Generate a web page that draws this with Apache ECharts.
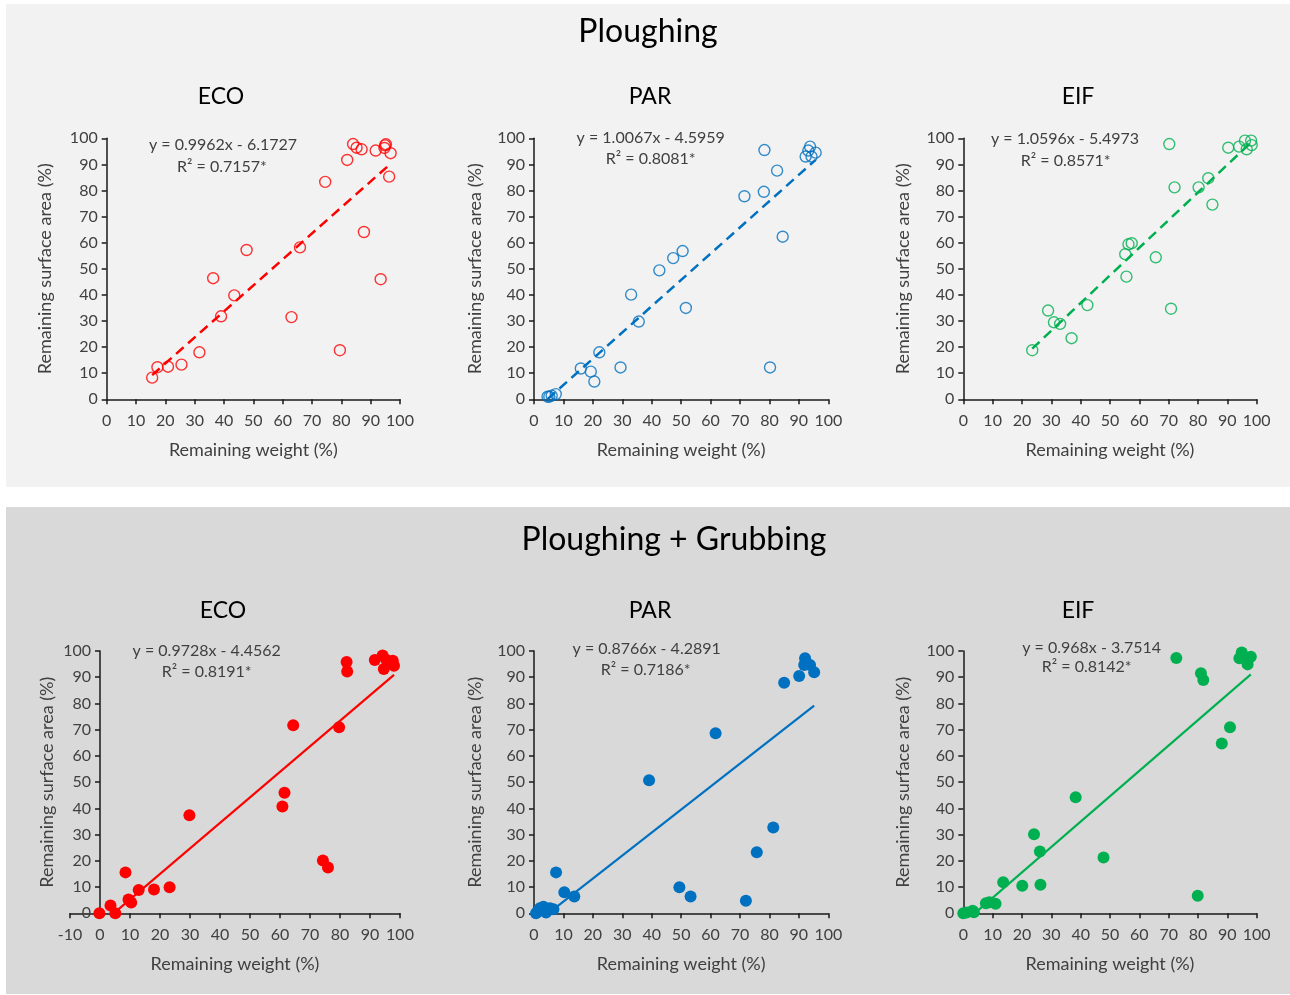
<!DOCTYPE html>
<html><head><meta charset="utf-8">
<script src="https://cdn.jsdelivr.net/npm/echarts@6/dist/echarts.min.js"></script>
<style>html,body{margin:0;padding:0;background:#fff}#c{width:1290px;height:995px}</style>
</head><body><div id="c"></div>
<script>
const panelTitles = ['Ploughing', 'Ploughing + Grubbing'];
const groups = ['ECO', 'PAR', 'EIF'];
const colors = ['#ff0000', '#0070c0', '#00b050'];

// Ploughing
const ecoPlX = [15.5,17.3,20.9,25.5,31.6,36.3,39.0,43.5,47.7,63.0,65.9,74.5,79.5,82.0,84.0,85.2,86.9,87.7,91.7,93.4,94.9,95.2,94.7,96.3,96.8];
const ecoPlY = [8.3,12.3,12.5,13.3,18.0,46.4,31.8,39.8,57.2,31.5,58.2,83.3,18.8,91.7,97.8,96.4,95.8,64.1,95.3,46.0,97.3,97.7,96.3,85.3,94.3];
const parPlX = [4.6,5.2,6.0,7.4,15.9,19.3,20.5,22.2,29.4,33.0,35.6,42.6,47.3,50.5,51.6,71.5,78.1,78.3,80.2,82.6,84.5,92.3,93.2,93.8,94.3,95.7];
const parPlY = [1.0,1.0,1.4,2.0,11.8,10.6,6.8,18.0,12.2,40.1,29.8,49.4,54.1,56.8,35.0,77.8,79.5,95.5,12.2,87.6,62.3,93.0,95.3,96.8,93.0,94.5];
const eifPlX = [23.5,28.9,30.9,33.0,36.9,42.3,55.2,55.6,56.3,57.4,65.6,70.2,70.8,72.0,80.2,83.5,84.9,90.3,94.0,96.0,96.6,98.1,98.3];
const eifPlY = [18.8,34.0,29.5,28.9,23.4,36.1,55.6,47.0,59.4,59.8,54.4,97.8,34.7,81.2,81.2,84.7,74.6,96.4,96.8,99.1,95.8,99.1,97.4];

// Ploughing + Grubbing
const ecoPgX = [-0.2,3.5,5.1,8.5,9.5,10.4,12.9,18.0,23.2,29.8,60.8,61.5,64.4,74.3,76.0,79.7,82.2,82.4,91.6,94.2,94.6,95.5,97.6,98.0];
const ecoPgY = [0,3.0,0,15.6,5.3,4.1,8.9,9.1,9.9,37.4,40.7,46.0,71.7,20.1,17.5,70.9,95.8,92.2,96.6,98.3,93.1,96.6,96.3,94.4];
const parPgX = [0.7,1.2,2.0,3.2,4.1,4.5,5.4,6.6,7.5,10.3,13.7,39.1,49.4,53.2,61.7,72.0,75.7,81.3,85.0,90.1,92.1,91.8,93.8,95.2,92.6];
const parPgY = [0,0.6,1.9,2.5,0.3,1.5,1.9,1.5,15.6,8.0,6.4,50.7,9.9,6.4,68.6,4.8,23.3,32.7,87.9,90.5,97.2,94.7,94.7,91.9,95.3];
const eifPgX = [0,1.1,3.2,3.6,7.7,8.9,11.0,13.6,20.1,24.1,26.1,26.3,38.3,47.8,72.6,79.9,81.0,81.8,88.1,90.9,94.1,94.9,95.5,96.9,98.0];
const eifPgY = [0,0.3,1.0,0.4,3.8,4.2,3.6,11.8,10.5,30.1,23.6,10.9,44.2,21.3,97.3,6.7,91.5,88.9,64.7,70.9,97.2,99.4,97.8,94.9,97.8];

const slopes = [0.9962, 1.0067, 1.0596, 0.9728, 0.8766, 0.968];
const intercepts = [-6.1727, -4.5959, -5.4973, -4.4562, -4.2891, -3.7514];
const r2Values = ['0.7157', '0.8081', '0.8571', '0.8191', '0.7186', '0.8142'];
const xMins = [0, 0, 0, -10, 0, 0];
const xName = 'Remaining weight (%)';
const yName = 'Remaining surface area (%)';

const xs = [ecoPlX, parPlX, eifPlX, ecoPgX, parPgX, eifPgX];
const ys = [ecoPlY, parPlY, eifPlY, ecoPgY, parPgY, eifPgY];

// layout (pixels)
const grids = [
  {left: 106.7, top: 138.3, width: 293.3, height: 261},
  {left: 534, top: 138.3, width: 294.3, height: 261},
  {left: 963.3, top: 138.3, width: 293.4, height: 261},
  {left: 70, top: 651, width: 330, height: 262.3},
  {left: 534, top: 651, width: 294.3, height: 262.3},
  {left: 963.3, top: 651, width: 293.4, height: 262.3}
];
const yOffsets = [0, 0, 0, -30, 0, 0];
const yNameGaps = [53, 50, 51, 44, 50, 51];
const eqPos = [[223,145,222,166.5],[650.7,138,650.7,159],[1065,139,1065.7,160.5],
               [206.7,650.7,206.7,671.7],[646.7,649.3,645.7,670],[1091.7,648.3,1086.7,667.3]];
const subPos = [[221,97],[650,97],[1078,97],[223,611],[650,611],[1078,611]];

const FONT = 'Lato, "Open Sans", sans-serif';
const labelColor = '#404040';

const xAxis = [], yAxis = [], series = [];
const graphic = [
  {type:'rect', shape:{x:6,y:4,width:1284,height:483}, style:{fill:'#f2f2f2'}, z:-10, silent:true},
  {type:'rect', shape:{x:6,y:507,width:1284,height:487}, style:{fill:'#d9d9d9'}, z:-10, silent:true},
  {type:'text', x:648, y:32, style:{text:panelTitles[0], font:'32px '+FONT, fill:'#000', align:'center', verticalAlign:'middle'}},
  {type:'text', x:674, y:540, style:{text:panelTitles[1], font:'32px '+FONT, fill:'#000', align:'center', verticalAlign:'middle'}}
];

for (let i = 0; i < 6; i++) {
  const top = i < 3;
  const c = colors[i % 3];
  xAxis.push({
    gridIndex: i, type: 'value', min: xMins[i], max: 100, interval: 10,
    name: xName, nameLocation: 'middle', nameGap: 42,
    nameTextStyle: {fontFamily: FONT, fontSize: 18, color: labelColor},
    axisLine: {show: true, onZero: false, lineStyle: {color: '#1a1a1a', width: 1.5}},
    axisTick: {show: true, length: 5, lineStyle: {color: '#1a1a1a', width: 1.5}},
    axisLabel: {fontFamily: FONT, fontSize: 16, color: labelColor, margin: 14},
    splitLine: {show: false}
  });
  yAxis.push({
    gridIndex: i, type: 'value', min: 0, max: 100, interval: 10,
    offset: yOffsets[i],
    name: yName, nameLocation: 'middle', nameGap: yNameGaps[i],
    nameTextStyle: {fontFamily: FONT, fontSize: 18, color: labelColor},
    axisLine: {show: true, onZero: false, lineStyle: {color: '#1a1a1a', width: 1.5}},
    axisTick: {show: true, length: 5, lineStyle: {color: '#1a1a1a', width: 1.5}},
    axisLabel: {fontFamily: FONT, fontSize: 16, color: labelColor, margin: 9},
    splitLine: {show: false}
  });
  const pts = xs[i].map((x, k) => [x, ys[i][k]]);
  series.push({
    type: 'scatter', xAxisIndex: i, yAxisIndex: i, data: pts, symbol: 'circle',
    symbolSize: top ? 11 : 12, z: 3,
    itemStyle: top ? {color: 'rgba(0,0,0,0)', borderColor: c, borderWidth: 1.4}
                   : {color: c, opacity: 1}
  });
  const minX = Math.min(...xs[i]), maxX = Math.max(...xs[i]);
  series.push({
    type: 'line', xAxisIndex: i, yAxisIndex: i, symbol: 'none', clip: true, z: 2,
    data: [[minX, slopes[i]*minX + intercepts[i]], [maxX, slopes[i]*maxX + intercepts[i]]],
    lineStyle: top ? {color: c, width: 2.5, type: [10, 6]} : {color: c, width: 2.2, type: 'solid'}
  });
  const eq = 'y = ' + slopes[i] + 'x - ' + Math.abs(intercepts[i]).toFixed(4);
  const p = eqPos[i];
  graphic.push({type:'text', x:p[0], y:p[1], z:5, style:{text:eq, font:'16px '+FONT, fill:labelColor, align:'center', verticalAlign:'middle'}});
  graphic.push({type:'text', x:p[2], y:p[3], z:5, style:{text:'R² = ' + r2Values[i] + '*', font:'16px '+FONT, fill:labelColor, align:'center', verticalAlign:'middle'}});
  graphic.push({type:'text', x:subPos[i][0], y:subPos[i][1], style:{text:groups[i % 3], font:'23px '+FONT, fill:'#000', align:'center', verticalAlign:'middle'}});
}

const chart = echarts.init(document.getElementById('c'));
chart.setOption({
  backgroundColor: '#ffffff',
  animation: false,
  grid: grids,
  xAxis, yAxis, series, graphic
});
</script></body></html>
